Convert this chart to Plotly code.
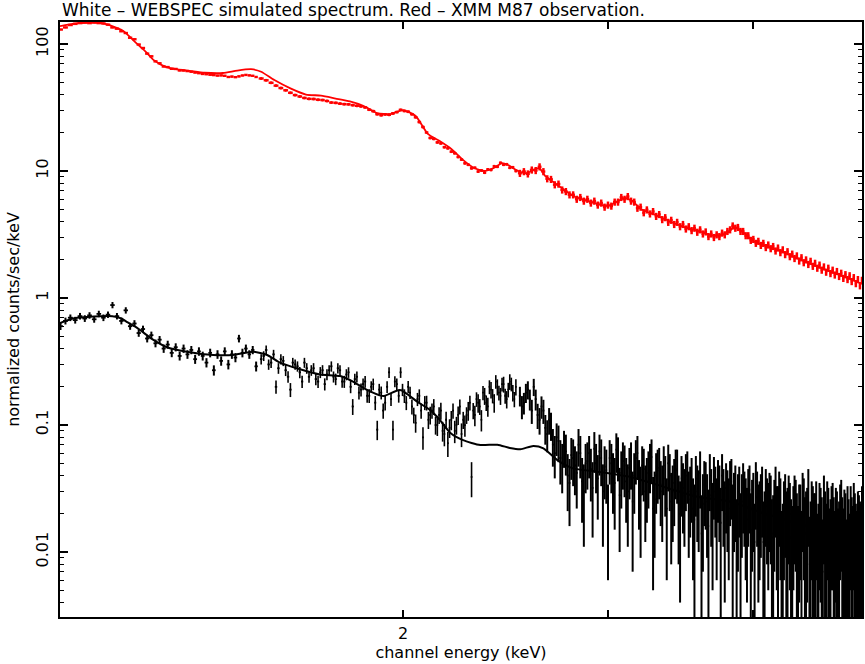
import math
import plotly.graph_objects as go

# ---------------- channel energies (keV) ----------------
e_lo = [1.015,1.025,1.035,1.045,1.055,1.065,1.075,1.085,1.095,1.105,
        1.115,1.125,1.135,1.145,1.155,1.165,1.175,1.185,1.195,1.205,
        1.215,1.225,1.235,1.245,1.255,1.265,1.275,1.285,1.295,1.305,
        1.315,1.325,1.335,1.345,1.355,1.365,1.375,1.385,1.395,1.405,
        1.415,1.425,1.435,1.445,1.455,1.465,1.475,1.485,1.495]
e_mid = [1.510,1.525,1.540,1.555,1.570,1.585,1.600,1.615,1.630,1.645,
         1.660,1.675,1.690,1.705,1.720,1.735,1.750,1.765,1.780,1.795,
         1.810,1.825,1.840,1.855,1.870,1.885,1.900,1.915,1.930,1.945,
         1.960,1.975,1.990,2.005,2.020,2.035,2.050,2.065,2.080,2.095,
         2.110,2.125,2.140,2.155,2.170,2.185,2.200,2.215,2.230,2.245,
         2.260,2.275,2.290,2.305,2.320,2.335,2.350,2.365,2.380,2.395,
         2.410,2.425,2.440,2.455,2.470,2.485,2.500]
e_hi = [2.52,2.54,2.56,2.58,2.60,2.62,2.64,2.66,2.68,2.70,
        2.72,2.74,2.76,2.78,2.80,2.82,2.84,2.86,2.88,2.90,
        2.92,2.94,2.96,2.98,3.00,3.02,3.04,3.06,3.08,3.10,
        3.12,3.14,3.16,3.18,3.20,3.22,3.24,3.26,3.28,3.30,
        3.32,3.34,3.36,3.38,3.40,3.42,3.44,3.46,3.48,3.50,
        3.52,3.54,3.56,3.58,3.60,3.62,3.64,3.66,3.68,3.70,
        3.72,3.74,3.76,3.78,3.80,3.82,3.84,3.86,3.88,3.90,
        3.92,3.94,3.96,3.98,4.00,4.02,4.04,4.06,4.08,4.10,
        4.12,4.14,4.16,4.18,4.20,4.22,4.24,4.26,4.28,4.30,
        4.32,4.34,4.36,4.38,4.40,4.42,4.44,4.46,4.48,4.50,
        4.52,4.54,4.56,4.58,4.60,4.62,4.64,4.66,4.68,4.70,
        4.72,4.74,4.76,4.78,4.80,4.82,4.84,4.86,4.88,4.90,
        4.92,4.94,4.96]
# interleaved channels of the simulated (black) spectrum
e_mid2 = [1.5175,1.5325,1.5475,1.5625,1.5775,1.5925,1.6075,1.6225,1.6375,1.6525,
          1.6675,1.6825,1.6975,1.7125,1.7275,1.7425,1.7575,1.7725,1.7875,1.8025,
          1.8175,1.8325,1.8475,1.8625,1.8775,1.8925,1.9075,1.9225,1.9375,1.9525,
          1.9675,1.9825,1.9975,2.0125,2.0275,2.0425,2.0575,2.0725,2.0875,2.1025,
          2.1175,2.1325,2.1475,2.1625,2.1775,2.1925,2.2075,2.2225,2.2375,2.2525,
          2.2675,2.2825,2.2975,2.3125,2.3275,2.3425,2.3575,2.3725,2.3875,2.4025,
          2.4175,2.4325,2.4475,2.4625,2.4775,2.4925]
e_hi2 = [2.53,2.55,2.57,2.59,2.61,2.63,2.65,2.67,2.69,2.71,
         2.73,2.75,2.77,2.79,2.81,2.83,2.85,2.87,2.89,2.91,
         2.93,2.95,2.97,2.99,3.01,3.03,3.05,3.07,3.09,3.11,
         3.13,3.15,3.17,3.19,3.21,3.23,3.25,3.27,3.29,3.31,
         3.33,3.35,3.37,3.39,3.41,3.43,3.45,3.47,3.49,3.51,
         3.53,3.55,3.57,3.59,3.61,3.63,3.65,3.67,3.69,3.71,
         3.73,3.75,3.77,3.79,3.81,3.83,3.85,3.87,3.89,3.91,
         3.93,3.95,3.97,3.99,4.01,4.03,4.05,4.07,4.09,4.11,
         4.13,4.15,4.17,4.19,4.21,4.23,4.25,4.27,4.29,4.31,
         4.33,4.35,4.37,4.39,4.41,4.43,4.45,4.47,4.49,4.51,
         4.53,4.55,4.57,4.59,4.61,4.63,4.65,4.67,4.69,4.71,
         4.73,4.75,4.77,4.79,4.81,4.83,4.85,4.87,4.89,4.91,
         4.93,4.95]

# ---------------- red: XMM M87 observation ----------------
red_lo = [130,135,141,144,146,148,146,148,146,145,
          142,135,132,126,122,112,109,99,93,84,
          80,73,70.5,66.5,65.8,63.8,63.6,61.9,61.8,61.2,
          60.5,59.6,58.9,58.1,57.8,57.3,56.9,56.4,56.6,56.2,
          55.0,55.4,54.8,55.6,56.5,57.1,56.6,56.2,55.0]
red_mid = [53.5,51.8,49.5,47.0,45.0,43.2,41.3,39.6,38.6,37.6,
           37.0,36.9,36.4,36.2,35.6,34.6,34.4,33.9,33.6,33.5,
           33.0,32.6,32.3,31.7,30.4,29.6,28.0,27.5,27.9,27.7,
           28.4,29.1,30.3,29.7,29.3,28.0,26.5,24.3,22.2,20.1,
           18.2,17.9,16.8,16.5,15.4,15.1,14.2,13.8,12.9,12.3,
           11.5,11.2,10.5,10.6,9.9,10.1,9.7,10.3,10.2,10.9,
           10.8,11.6,11.2,11.3,10.6,10.7,10.0]
red_hi = [9.6,9.9,9.5,10.2,10.1,10.8,9.9,8.7,8.6,7.8,
          7.9,7.1,6.9,6.5,6.5,6.0,6.2,5.8,6.0,5.6,
          5.8,5.4,5.6,5.2,5.4,5.3,5.7,5.7,6.2,6.0,
          6.3,5.8,5.7,5.1,5.2,4.7,4.95,4.6,4.8,4.4,
          4.55,4.15,4.3,3.95,4.1,3.8,3.95,3.65,3.8,3.5,
          3.65,3.4,3.55,3.3,3.45,3.2,3.32,3.05,3.2,3.0,
          3.15,3.05,3.25,3.15,3.35,3.45,3.7,3.55,3.6,3.35,
          3.35,3.1,3.1,2.85,2.9,2.7,2.8,2.6,2.7,2.5,
          2.62,2.45,2.55,2.35,2.48,2.28,2.4,2.2,2.32,2.12,
          2.22,2.05,2.15,1.96,2.08,1.9,2.0,1.84,1.95,1.78,
          1.88,1.72,1.82,1.66,1.76,1.6,1.72,1.56,1.66,1.52,
          1.62,1.48,1.57,1.43,1.53,1.4,1.5,1.35,1.45,1.3,
          1.4,1.25,1.38]
red_err_pct = [1.5, 2.5, 6.5]   # lo, mid, hi segments

red_model_e = [1.014,1.03,1.05,1.07,1.09,1.1,1.12,1.15,1.18,1.2,
               1.22,1.25,1.28,1.31,1.35,1.4,1.44,1.48,1.51,1.55,
               1.6,1.65,1.7,1.75,1.8,1.85,1.9,1.95,2.0,2.05,
               2.1,2.15,2.2,2.25,2.3,2.35,2.4,2.43,2.46,2.5,
               2.55,2.6,2.62,2.65,2.7,2.8,2.9,3.0,3.05,3.1,
               3.15,3.2,3.3,3.4,3.5,3.6,3.7,3.8,3.85,3.9,
               4.0,4.2,4.4,4.6,4.8,4.96]
red_model_v = [138,142,146,147,147,146.5,140,126,101,88,
               75,66,63,61.5,59.4,59.1,61.8,63.3,60.5,52,
               44.7,40,39.2,37.2,35.3,32.5,28.6,28.1,30.2,27.1,
               19.6,17.2,14.9,12.3,10.6,10.0,10.7,11.5,11.2,10.2,
               9.6,10.4,10.5,9.1,8.05,6.36,5.73,5.3,5.7,6.13,
               5.8,5.02,4.5,3.97,3.59,3.34,3.08,3.25,3.62,3.43,
               2.81,2.39,1.99,1.69,1.46,1.29]

# ---------------- black: WEBSPEC simulated spectrum ----------------
black_lo = [0.60,0.66,0.70,0.67,0.72,0.69,0.73,0.68,0.75,0.70,
            0.74,0.88,0.72,0.66,0.80,0.60,0.63,0.53,0.57,0.48,
            0.51,0.44,0.47,0.40,0.43,0.37,0.41,0.35,0.40,0.36,
            0.39,0.33,0.38,0.35,0.31,0.37,0.27,0.36,0.32,0.38,
            0.30,0.36,0.34,0.48,0.37,0.40,0.36,0.39,0.29]
black_err_lo = [0.040,0.041,0.042,0.041,0.043,0.042,0.043,0.041,0.044,0.042,
                0.043,0.050,0.042,0.040,0.046,0.038,0.039,0.035,0.036,0.033,
                0.034,0.031,0.032,0.030,0.031,0.028,0.030,0.028,0.030,0.028,
                0.029,0.027,0.029,0.028,0.026,0.029,0.025,0.028,0.027,0.029,
                0.026,0.028,0.028,0.033,0.029,0.030,0.028,0.029,0.026]
black_mid = [0.33,0.39,0.31,0.20,0.33,0.27,0.19,0.30,0.26,0.31,
             0.24,0.28,0.22,0.27,0.25,0.29,0.23,0.27,0.22,0.26,
             0.14,0.24,0.19,0.22,0.17,0.21,0.092,0.18,0.15,0.26,
             0.092,0.21,0.26,0.17,0.20,0.14,0.104,0.17,0.08,0.15,
             0.12,0.14,0.10,0.13,0.085,0.072,0.11,0.09,0.12,0.085,
             0.10,0.13,0.039,0.12,0.15,0.11,0.17,0.14,0.19,0.15,
             0.20,0.17,0.21,0.16,0.22,0.18,0.20]
black_err_mid = [0.030,0.032,0.029,0.024,0.030,0.027,0.024,0.028,0.026,0.028,
                 0.025,0.027,0.024,0.026,0.025,0.027,0.024,0.026,0.024,0.025,
                 0.020,0.024,0.022,0.023,0.021,0.022,0.016,0.021,0.020,0.025,
                 0.016,0.022,0.025,0.021,0.022,0.019,0.017,0.021,0.016,0.020,
                 0.019,0.020,0.018,0.020,0.017,0.016,0.019,0.018,0.020,0.018,
                 0.019,0.022,0.012,0.022,0.025,0.021,0.026,0.024,0.028,0.025,
                 0.029,0.026,0.030,0.025,0.031,0.027,0.029]
black_mid2 = [0.35,0.30,0.36,0.28,0.32,0.24,0.31,0.29,0.22,0.28,
              0.27,0.23,0.26,0.21,0.27,0.24,0.28,0.22,0.25,0.20,
              0.23,0.18,0.21,0.17,0.20,0.15,0.19,0.13,0.20,0.16,
              0.22,0.17,0.19,0.15,0.18,0.12,0.16,0.13,0.15,0.11,
              0.13,0.10,0.12,0.09,0.11,0.095,0.13,0.10,0.14,0.11,
              0.12,0.15,0.13,0.16,0.14,0.18,0.15,0.20,0.17,0.22,
              0.18,0.21,0.17,0.19,0.21,0.16]
black_err_mid2 = [0.031,0.028,0.031,0.027,0.029,0.025,0.028,0.027,0.024,0.027,
                  0.026,0.024,0.026,0.023,0.026,0.024,0.026,0.023,0.025,0.022,
                  0.023,0.021,0.022,0.020,0.021,0.019,0.021,0.018,0.021,0.019,
                  0.022,0.020,0.021,0.019,0.020,0.017,0.019,0.018,0.019,0.017,
                  0.018,0.016,0.018,0.016,0.017,0.016,0.018,0.016,0.019,0.017,
                  0.018,0.020,0.019,0.021,0.020,0.023,0.021,0.025,0.022,0.027,
                  0.024,0.026,0.023,0.025,0.026,0.022]
black_hi = [0.17,0.15,0.19,0.13,0.16,0.11,0.13,0.085,0.10,0.06,
            0.075,0.05,0.062,0.035,0.055,0.042,0.06,0.03,0.052,0.045,
            0.065,0.038,0.055,0.047,0.02,0.05,0.035,0.058,0.042,0.048,
            0.03,0.052,0.04,0.06,0.028,0.045,0.036,0.05,0.022,0.04,
            0.046,0.03,0.038,0.05,0.025,0.035,0.044,0.02,0.032,0.04,
            0.026,0.036,0.018,0.03,0.042,0.024,0.033,0.016,0.028,0.037,
            0.022,0.03,0.04,0.02,0.027,0.034,0.018,0.03,0.024,0.014,
            0.032,0.022,0.028,0.015,0.026,0.033,0.019,0.025,0.012,0.028,
            0.02,0.024,0.014,0.03,0.018,0.022,0.011,0.025,0.017,0.02,
            0.01,0.024,0.015,0.019,0.009,0.022,0.016,0.028,0.012,0.018,
            0.015,0.008,0.02,0.014,0.024,0.011,0.017,0.013,0.02,0.009,
            0.016,0.012,0.022,0.01,0.015,0.018,0.008,0.014,0.02,0.011,
            0.016,0.012,0.018]
black_err_hi = [0.030,0.029,0.031,0.028,0.030,0.026,0.028,0.024,0.025,0.022,
                0.024,0.021,0.022,0.019,0.022,0.020,0.022,0.019,0.021,0.020,
                0.023,0.020,0.022,0.021,0.014,0.021,0.020,0.022,0.020,0.021,
                0.019,0.021,0.020,0.022,0.019,0.020,0.019,0.021,0.017,0.020,
                0.020,0.018,0.019,0.020,0.017,0.019,0.020,0.016,0.018,0.019,
                0.017,0.019,0.016,0.018,0.020,0.017,0.018,0.015,0.017,0.019,
                0.016,0.018,0.019,0.016,0.017,0.018,0.016,0.018,0.017,0.015,
                0.018,0.016,0.017,0.014,0.016,0.018,0.015,0.016,0.013,0.017,
                0.015,0.016,0.014,0.017,0.015,0.016,0.013,0.016,0.015,0.015,
                0.013,0.016,0.014,0.015,0.012,0.016,0.014,0.017,0.013,0.015,
                0.014,0.012,0.015,0.013,0.016,0.013,0.015,0.013,0.015,0.012,
                0.014,0.013,0.015,0.012,0.014,0.015,0.012,0.013,0.015,0.013,
                0.014,0.013,0.015]
black_hi2 = [0.14,0.18,0.16,0.20,0.12,0.14,0.095,0.11,0.07,0.08,
             0.055,0.068,0.04,0.058,0.048,0.07,0.036,0.05,0.06,0.032,
             0.05,0.062,0.03,0.044,0.055,0.04,0.064,0.028,0.052,0.036,
             0.046,0.025,0.055,0.034,0.048,0.03,0.042,0.056,0.026,0.044,
             0.034,0.048,0.022,0.04,0.03,0.045,0.024,0.038,0.028,0.043,
             0.03,0.022,0.038,0.027,0.014,0.034,0.025,0.04,0.02,0.03,
             0.035,0.017,0.028,0.032,0.022,0.036,0.026,0.013,0.03,0.025,
             0.027,0.018,0.031,0.022,0.012,0.027,0.021,0.03,0.016,0.023,
             0.026,0.013,0.022,0.019,0.027,0.009,0.021,0.016,0.024,0.013,
             0.019,0.022,0.011,0.02,0.026,0.014,0.018,0.008,0.021,0.016,
             0.021,0.012,0.018,0.007,0.016,0.021,0.01,0.019,0.014,0.018,
             0.01,0.02,0.014,0.017,0.007,0.013,0.019,0.011,0.016,0.009,
             0.015,0.012]
black_err_hi2 = [0.029,0.031,0.030,0.031,0.027,0.028,0.025,0.026,0.023,0.023,
                 0.021,0.022,0.019,0.021,0.020,0.023,0.019,0.021,0.022,0.019,
                 0.021,0.022,0.019,0.020,0.021,0.020,0.022,0.018,0.021,0.019,
                 0.020,0.018,0.021,0.019,0.020,0.018,0.020,0.021,0.017,0.020,
                 0.018,0.020,0.016,0.019,0.018,0.019,0.016,0.019,0.017,0.019,
                 0.017,0.016,0.019,0.017,0.014,0.018,0.016,0.019,0.015,0.017,
                 0.018,0.015,0.017,0.018,0.016,0.018,0.016,0.013,0.017,0.016,
                 0.016,0.014,0.017,0.015,0.012,0.016,0.015,0.017,0.014,0.015,
                 0.016,0.013,0.015,0.014,0.016,0.012,0.015,0.014,0.016,0.013,
                 0.014,0.015,0.012,0.014,0.016,0.013,0.014,0.011,0.015,0.013,
                 0.015,0.012,0.014,0.011,0.014,0.015,0.012,0.014,0.013,0.014,
                 0.012,0.014,0.013,0.014,0.011,0.013,0.014,0.012,0.013,0.012,
                 0.013,0.012]

black_model_e = [1.014,1.04,1.07,1.097,1.125,1.145,1.157,1.175,1.188,1.219,
                 1.253,1.303,1.373,1.428,1.486,1.528,1.567,1.631,1.697,1.766,
                 1.811,1.862,1.922,1.988,2.056,2.11,2.15,2.195,2.252,2.33,
                 2.41,2.47,2.522,2.588,2.64,2.714,2.8,2.938,3.136,3.348,
                 3.582,3.824,4.082,4.366,4.662,4.96]
black_model_v = [0.635,0.69,0.71,0.72,0.72,0.69,0.65,0.60,0.56,0.47,
                 0.41,0.378,0.356,0.356,0.378,0.356,0.31,0.275,0.25,0.243,
                 0.22,0.189,0.169,0.189,0.153,0.131,0.11,0.087,0.076,0.0696,
                 0.070,0.066,0.0644,0.0685,0.0656,0.053,0.0456,0.0429,0.039,0.0327,
                 0.0272,0.0249,0.0202,0.0168,0.0140,0.0124]

title_text = "White \u2013 WEBSPEC simulated spectrum. Red \u2013 XMM M87 observation."
x_title = "channel energy (keV)"
y_title = "normalized counts/sec/keV"

RED = "#ff0000"
BLACK = "#000000"
FONT = "DejaVu Sans"

fig = go.Figure()

# red data: (energies, values, error %, bar width)
red_sets = [(e_lo, red_lo, red_err_pct[0], 1.8),
            (e_mid, red_mid, red_err_pct[1], 2.0),
            (e_hi, red_hi, red_err_pct[2], 2.5)]
for es, rv, pct, th in red_sets:
    n = min(len(es), len(rv))
    hw = (es[1] - es[0]) / 2.0
    fig.add_trace(go.Scatter(
        x=es[:n], y=rv[:n], mode="markers",
        marker=dict(size=1, color=RED),
        error_y=dict(type="percent", value=pct, color=RED, thickness=th, width=0),
        error_x=dict(type="constant", value=hw, color=RED, thickness=2.4, width=0),
        showlegend=False, hoverinfo="skip"))

fig.add_trace(go.Scatter(x=red_model_e, y=red_model_v, mode="lines",
                         line=dict(color=RED, width=1.8, shape="spline", smoothing=0.6),
                         showlegend=False, hoverinfo="skip"))

# black data: (energies, values, errors, half bin width fraction, bar width)
black_sets = [(e_lo, black_lo, black_err_lo, 0.5, 2.0),
              (e_mid, black_mid, black_err_mid, 0.25, 1.6),
              (e_mid2, black_mid2, black_err_mid2, 0.25, 1.6),
              (e_hi, black_hi, black_err_hi, 0.25, 2.0),
              (e_hi2, black_hi2, black_err_hi2, 0.25, 2.0)]
for es, bv, be, frac, th in black_sets:
    n = min(len(es), len(bv), len(be))
    hw = (es[1] - es[0]) * frac
    ys = bv[:n]
    up = be[:n]
    dn = [min(e, y - 1e-4) for e, y in zip(be[:n], ys)]
    fig.add_trace(go.Scatter(
        x=es[:n], y=ys, mode="markers",
        marker=dict(size=1, color=BLACK),
        error_y=dict(type="data", array=up, arrayminus=dn, symmetric=False,
                     color=BLACK, thickness=th, width=0),
        error_x=dict(type="constant", value=hw, color=BLACK, thickness=1.8, width=0),
        showlegend=False, hoverinfo="skip"))

fig.add_trace(go.Scatter(x=black_model_e, y=black_model_v, mode="lines",
                         line=dict(color=BLACK, width=2, shape="spline", smoothing=0.6),
                         showlegend=False, hoverinfo="skip"))

axis_common = dict(showline=True, linecolor=BLACK, linewidth=1.5, mirror="ticks",
                   ticks="inside", tickcolor=BLACK, tickwidth=1.5,
                   showgrid=False, zeroline=False,
                   tickfont=dict(family=FONT, size=16, color=BLACK))

fig.update_layout(
    width=865, height=664,
    margin=dict(l=60, r=3, t=22, b=47, autoexpand=False),
    paper_bgcolor="white", plot_bgcolor="white",
    font=dict(family=FONT, size=16, color=BLACK),
    xaxis=dict(type="log", range=[math.log10(1.014), math.log10(4.96)],
               tickmode="array", tickvals=[2, 3, 4], ticktext=["2", "", ""],
               ticklen=7, ticklabelstandoff=1,
               title=dict(text=x_title, font=dict(family=FONT, size=16), standoff=5),
               **axis_common),
    yaxis=dict(type="log", range=[math.log10(0.00308), math.log10(149)],
               dtick=1, ticklen=8, tickangle=-90, ticklabelstandoff=4,
               minor=dict(dtick="D1", ticks="inside", ticklen=4, tickcolor=BLACK,
                          tickwidth=1.2, showgrid=False),
               title=dict(text=y_title, font=dict(family=FONT, size=16), standoff=9),
               **axis_common),
    annotations=[dict(text=title_text, xref="paper", yref="paper", x=0, y=1,
                      xanchor="left", yanchor="bottom", yshift=0, showarrow=False,
                      font=dict(family=FONT, size=17, color=BLACK))],
)

fig.write_html("out.html", config={"displayModeBar": False},
               post_script="document.body.style.margin='0';document.body.style.overflow='hidden';")
